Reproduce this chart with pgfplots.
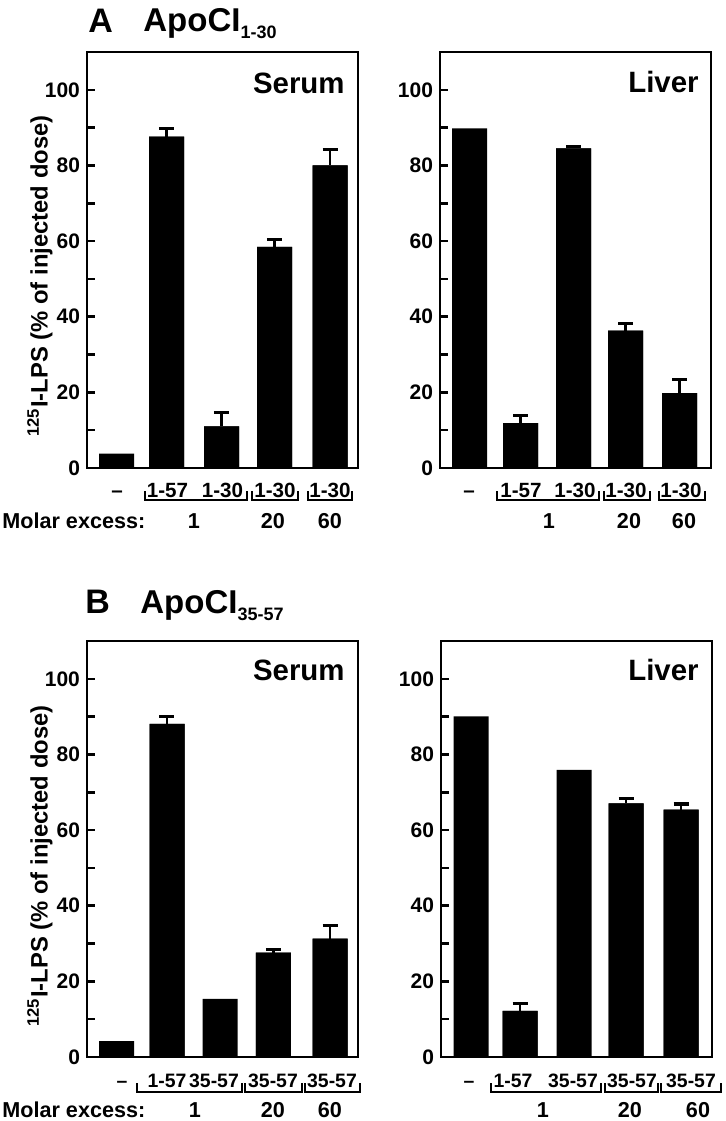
\documentclass[border=0pt]{standalone}
\usepackage{fontspec}
\setmainfont{Liberation Sans}
\usepackage{pgfplots}
\pgfplotsset{compat=1.18}
\usepackage{pgfplotstable}

% bar heights (all bars)
\pgfplotstableread{
x y
29.5 3.8
79.5 87.6
134.5 11.0
187.5 58.5
243 80.0
}\serumA
\pgfplotstableread{
x y e
79.5 87.6 2.1
134.5 11.0 3.7
187.5 58.5 2.0
243 80.0 4.2
}\serumAerr
\pgfplotstableread{
x y
29.5 89.8
80.5 11.9
133.5 84.5
185.5 36.3
239.5 19.8
}\liverA
\pgfplotstableread{
x y e
80.5 11.9 2.0
133.5 84.5 0.6
185.5 36.3 1.9
239.5 19.8 3.7
}\liverAerr
\pgfplotstableread{
x y
29.5 4.2
80.0 88.1
133.0 15.4
186.3 27.6
243 31.3
}\serumB
\pgfplotstableread{
x y e
80.0 88.1 1.9
186.3 27.6 0.8
243 31.3 3.4
}\serumBerr
\pgfplotstableread{
x y
30.0 90.1
79.0 12.2
133.0 75.9
185.0 67.1
240.0 65.4
}\liverB
\pgfplotstableread{
x y e
79.0 12.2 1.9
185.0 67.1 1.3
240.0 65.4 1.5
}\liverBerr

\pgfplotsset{panel/.style={
  scale only axis, width=135.5pt, height=208pt,
  xmin=0, xmax=271, ymin=0, ymax=110,
  ybar, bar width=35, bar shift=0pt,
  xtick=\empty, ytick={0,20,...,100}, minor ytick={10,30,...,90},
  tick align=inside, ytick pos=left,
  major tick length=4pt, minor tick length=4pt,
  every tick/.append style={line width=1.3pt, black},
  axis line style={line width=1.4pt},
  yticklabel style={font=\bfseries\fontsize{10.5}{12}\selectfont},
  /pgf/number format/assume math mode=true,
  anchor=south west, clip=false}}

\newcommand{\bars}[2]{%
  \addplot[fill=black, draw=none] table[x=x, y=y] {#1};
  \addplot[fill=black, draw=none,
  error bars/.cd, y dir=plus, y explicit,
  error bar style={line width=1.4pt, black},
  error mark options={rotate=90, mark size=3.75pt, line width=1.6pt, black}]
  table[x=x, y=y, y error=e] {#2};}

\begin{document}
\begin{tikzpicture}
\useasboundingbox (0,0) rectangle (363pt,-560.5pt);

\begin{axis}[panel, at={(43.5pt,-234pt)}]
\bars{\serumA}{\serumAerr}
\end{axis}
\begin{axis}[panel, at={(220pt,-234pt)}]
\bars{\liverA}{\liverAerr}
\end{axis}
\begin{axis}[panel, at={(43.5pt,-528.5pt)}]
\bars{\serumB}{\serumBerr}
\end{axis}
\begin{axis}[panel, at={(220.5pt,-528.5pt)}]
\bars{\liverB}{\liverBerr}
\end{axis}

\begin{scope}[x=0.5pt, y=-0.5pt, font=\bfseries]
% titles
\node[anchor=base west, font=\bfseries\fontsize{17}{18}\selectfont, inner sep=0] at (88,32) {A};
\node[anchor=base west, font=\bfseries\fontsize{16.5}{18}\selectfont, inner sep=0] at (143,31) {ApoCI\raisebox{-3.5pt}{\fontsize{9}{10}\selectfont 1-30}};
\node[anchor=base west, font=\bfseries\fontsize{17}{18}\selectfont, inner sep=0] at (85,613) {B};
\node[anchor=base west, font=\bfseries\fontsize{16.5}{18}\selectfont, inner sep=0] at (140,613) {ApoCI\raisebox{-3.5pt}{\fontsize{9}{10}\selectfont 35-57}};
% panel names
\node[anchor=base east, font=\bfseries\fontsize{14.7}{16}\selectfont, inner sep=0] at (345,93) {Serum};
\node[anchor=base east, font=\bfseries\fontsize{14.7}{16}\selectfont, inner sep=0] at (699,92) {Liver};
\node[anchor=base east, font=\bfseries\fontsize{14.7}{16}\selectfont, inner sep=0] at (345,680) {Serum};
\node[anchor=base east, font=\bfseries\fontsize{14.7}{16}\selectfont, inner sep=0] at (699,680) {Liver};
% y labels
\node[rotate=90, font=\bfseries\fontsize{11.9}{13}\selectfont, inner sep=0] at (40,276) {\textsuperscript{125}I-LPS (\% of injected dose)};
\node[rotate=90, font=\bfseries\fontsize{11.9}{13}\selectfont, inner sep=0] at (40,866) {\textsuperscript{125}I-LPS (\% of injected dose)};

% category labels
\begin{scope}[every node/.style={anchor=base, inner sep=0, font=\bfseries\fontsize{10.3}{11}\selectfont}]
\node at (117,497) {--}; \node at (167.5,497) {1-57}; \node at (222.5,497) {1-30};
\node at (275,497) {1-30}; \node at (330,497) {1-30};
\node at (469,497) {--}; \node at (521,497) {1-57}; \node at (575,497) {1-30};
\node at (626,497) {1-30}; \node at (681,497) {1-30};
\end{scope}
\begin{scope}[every node/.style={anchor=base, inner sep=0, font=\bfseries\fontsize{9.7}{11}\selectfont}]
\node at (122,1087) {--}; \node at (167,1087) {1-57}; \node at (214,1087) {35-57};
\node at (273,1087) {35-57}; \node at (332,1087) {35-57};
\node at (469,1087) {--}; \node at (513,1087) {1-57}; \node at (573,1087) {35-57};
\node at (632,1087) {35-57}; \node at (691,1087) {35-57};
\end{scope}
% brackets
\begin{scope}[line width=1.1pt]
\draw (145,491)--(145,500)--(247,500)--(247,491);
\draw (252,491)--(252,500)--(298,500)--(298,491);
\draw (308,491)--(308,500)--(352,500)--(352,491);
\draw (497,491)--(497,500)--(599,500)--(599,491);
\draw (604,491)--(604,500)--(650,500)--(650,491);
\draw (659,491)--(659,500)--(705,500)--(705,491);
\draw (137,1083)--(137,1092)--(242,1092)--(242,1083);
\draw (245,1083)--(245,1092)--(302,1092)--(302,1083);
\draw (305,1083)--(305,1092)--(360,1092)--(360,1083);
\draw (491,1083)--(491,1092)--(601,1092)--(601,1083);
\draw (605,1083)--(605,1092)--(658,1092)--(658,1083);
\draw (661,1083)--(661,1092)--(721,1092)--(721,1083);
\end{scope}
% molar excess
\begin{scope}[every node/.style={anchor=base, inner sep=0, font=\bfseries\fontsize{10.8}{12}\selectfont}]
\node[anchor=base west] at (2,528) {Molar excess:};
\node at (194,528) {1}; \node at (273,528) {20}; \node at (330,528) {60};
\node at (549,528) {1}; \node at (629,528) {20}; \node at (684,528) {60};
\node[anchor=base west] at (2,1117) {Molar excess:};
\node at (195,1117) {1}; \node at (273,1117) {20}; \node at (330,1117) {60};
\node at (543,1117) {1}; \node at (630,1117) {20}; \node at (698,1117) {60};
\end{scope}
\end{scope}
\end{tikzpicture}
\end{document}
